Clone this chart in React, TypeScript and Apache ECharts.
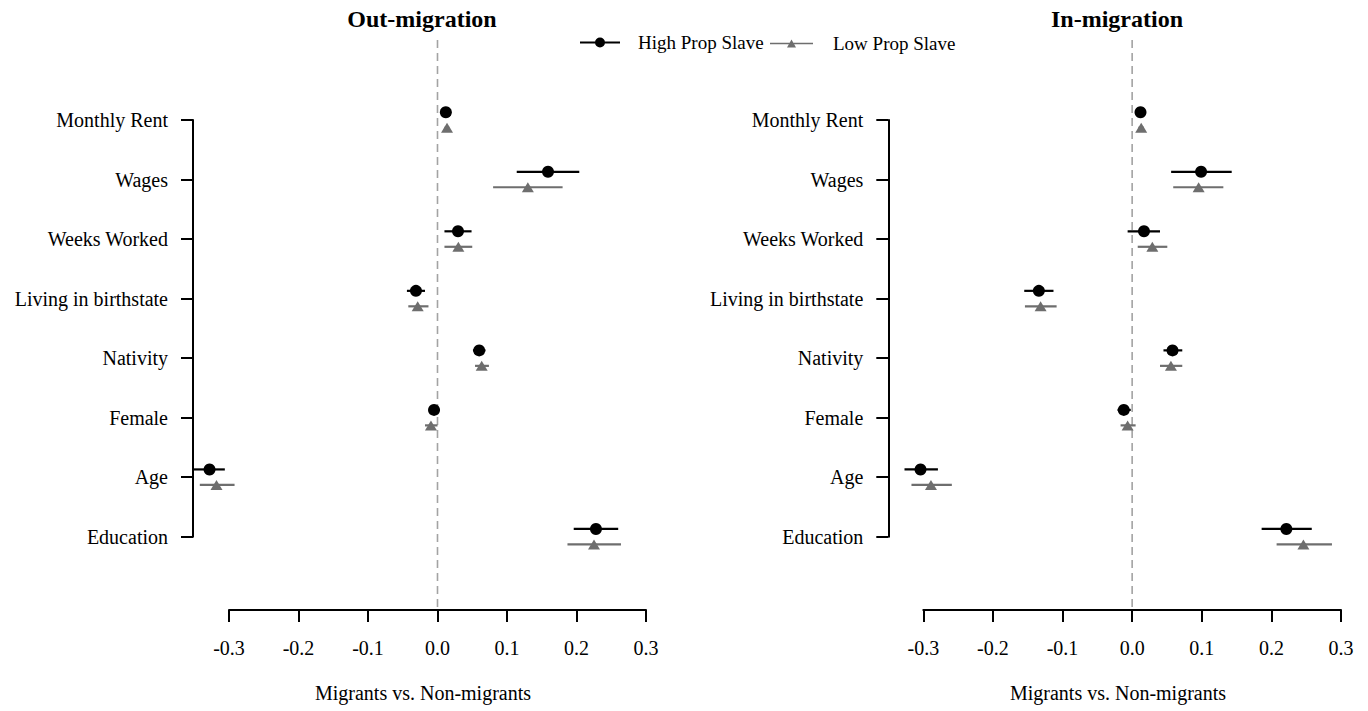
import React, { useEffect, useRef } from "react";
import * as echarts from "echarts";

const categories = [
  "Monthly Rent",
  "Wages",
  "Weeks Worked",
  "Living in birthstate",
  "Nativity",
  "Female",
  "Age",
  "Education",
];

const xTicks = [-0.3, 0.3, 0.1];

// Out-migration panel
const outHigh = [0.012, 0.159, 0.0295, -0.031, 0.06, -0.005, -0.328, 0.228];
const outHighLo = [0.008, 0.114, 0.01, -0.044, 0.051, -0.012, -0.351, 0.196];
const outHighHi = [0.016, 0.204, 0.049, -0.018, 0.069, 0.003, -0.306, 0.26];
const outLow = [0.0137, 0.13, 0.03, -0.0285, 0.0636, -0.0094, -0.318, 0.2252];
const outLowLo = [0.01, 0.08, 0.01, -0.042, 0.054, -0.018, -0.342, 0.187];
const outLowHi = [0.017, 0.18, 0.05, -0.013, 0.074, 0.0, -0.292, 0.264];

// In-migration panel
const inHigh = [0.012, 0.099, 0.017, -0.134, 0.058, -0.012, -0.304, 0.2215];
const inHighLo = [0.008, 0.056, -0.0065, -0.155, 0.045, -0.021, -0.327, 0.186];
const inHighHi = [0.016, 0.143, 0.04, -0.113, 0.072, -0.002, -0.279, 0.258];
const inLow = [0.013, 0.0955, 0.029, -0.1315, 0.0557, -0.0065, -0.289, 0.246];
const inLowLo = [0.009, 0.059, 0.008, -0.154, 0.04, -0.0166, -0.317, 0.2075];
const inLowHi = [0.017, 0.131, 0.0505, -0.1085, 0.072, 0.005, -0.259, 0.287];

const panelTitles = ["Out-migration", "In-migration"];
const seriesNames = ["High Prop Slave", "Low Prop Slave"];
const xAxisTitle = "Migrants vs. Non-migrants";

const FONT = '"Liberation Serif", "Times New Roman", serif';
const BLACK = "#000000";
const GRAY = "#6e6e6e";
const DASH = "#a3a3a3";
const DODGE = 0.13;
// dashed zero line extends above first / below last category (in category units)
const ZERO_TOP = 1 - 1.345;
const ZERO_BOTTOM = 8 + 1.232;

const LEGEND_HIGH_ICON =
  "path://M0,4H40V6H0Z M15,5A5,5 0 1,1 25,5A5,5 0 1,1 15,5Z M52.9,5H53V5.05Z";
const LEGEND_LOW_ICON =
  "path://M0,3.25H43V4.75H0Z M21.5,0L26,8L17,8Z M57.9,4H58V4.05Z";

function fmtX(v: number) {
  if (Math.abs(v) < 1e-9) return "0.0";
  return v.toFixed(1);
}

function errBarSeries(p: number, lo: number[], hi: number[], off: number, color: string) {
  return {
    type: "custom",
    xAxisIndex: p,
    yAxisIndex: p,
    clip: false,
    silent: true,
    encode: { x: [0, 2], y: 1 },
    data: categories.map((_, i) => [lo[i], i + 1 + off, hi[i]]),
    renderItem: (_params: any, api: any) => {
      const a = api.coord([api.value(0), api.value(1)]);
      const b = api.coord([api.value(2), api.value(1)]);
      return {
        type: "line",
        shape: { x1: a[0], y1: a[1], x2: b[0], y2: b[1] },
        style: { stroke: color, lineWidth: 2.2 },
      };
    },
  };
}

function zeroLineSeries(p: number) {
  return {
    type: "custom",
    xAxisIndex: p,
    yAxisIndex: p,
    clip: false,
    silent: true,
    encode: { x: 0, y: [1, 2] },
    data: [[0, ZERO_TOP, ZERO_BOTTOM]],
    renderItem: (_params: any, api: any) => {
      const a = api.coord([api.value(0), api.value(1)]);
      const b = api.coord([api.value(0), api.value(2)]);
      return {
        type: "line",
        shape: { x1: a[0], y1: a[1], x2: b[0], y2: b[1] },
        style: { stroke: DASH, lineWidth: 1.6, lineDash: [8, 5] },
      };
    },
  };
}

function pointSeries(p: number, name: string, vals: number[], off: number, symbol: string, size: any, color: string) {
  return {
    type: "scatter",
    name,
    xAxisIndex: p,
    yAxisIndex: p,
    clip: false,
    symbol,
    symbolSize: size,
    itemStyle: { color, opacity: 1 },
    data: vals.map((v, i) => [v, i + 1 + off]),
  };
}

function makeXAxis(p: number) {
  return {
    gridIndex: p,
    type: "value",
    min: xTicks[0],
    max: xTicks[1],
    interval: xTicks[2],
    offset: 73.3,
    axisLine: { show: true, onZero: false, lineStyle: { color: BLACK, width: 2 } },
    axisTick: { show: true, length: 12, lineStyle: { color: BLACK, width: 2 } },
    axisLabel: {
      formatter: fmtX,
      fontFamily: FONT,
      fontSize: 20,
      color: BLACK,
      margin: 28,
      showMinLabel: true,
      showMaxLabel: true,
    },
    splitLine: { show: false },
  };
}

function makeYAxis(p: number, offset: number) {
  return {
    gridIndex: p,
    type: "value",
    min: 1,
    max: 8,
    interval: 1,
    inverse: true,
    offset,
    axisLine: { show: true, onZero: false, lineStyle: { color: BLACK, width: 2 } },
    axisTick: { show: true, length: 12, lineStyle: { color: BLACK, width: 2 } },
    axisLabel: {
      formatter: (v: number) => categories[Math.round(v) - 1] || "",
      fontFamily: FONT,
      fontSize: 20,
      color: BLACK,
      margin: 25,
    },
    splitLine: { show: false },
  };
}

export default function App() {
  const ref = useRef<HTMLDivElement>(null);

  useEffect(() => {
    if (!ref.current) return;
    const chart = echarts.init(ref.current, undefined, { renderer: "svg" });

    const panels = [
      { hi: outHigh, hiLo: outHighLo, hiHi: outHighHi, lo: outLow, loLo: outLowLo, loHi: outLowHi },
      { hi: inHigh, hiLo: inHighLo, hiHi: inHighHi, lo: inLow, loLo: inLowLo, loHi: inLowHi },
    ];

    const series: any[] = [];
    panels.forEach((d, p) => {
      series.push(zeroLineSeries(p));
      series.push(errBarSeries(p, d.loLo, d.loHi, DODGE, GRAY));
      series.push(errBarSeries(p, d.hiLo, d.hiHi, -DODGE, BLACK));
      series.push(pointSeries(p, seriesNames[1], d.lo, DODGE, "triangle", [12, 10], GRAY));
      series.push(pointSeries(p, seriesNames[0], d.hi, -DODGE, "circle", 12, BLACK));
    });

    const titleStyle = { fontFamily: FONT, fontSize: 24, fontWeight: "bold", color: BLACK };
    const textStyle = { fontFamily: FONT, fontSize: 19, color: BLACK };

    const option: any = {
      animation: false,
      backgroundColor: "#ffffff",
      title: [
        { text: panelTitles[0], left: 422, top: 7, padding: 0, textAlign: "center", textStyle: titleStyle },
        { text: panelTitles[1], left: 1117, top: 7, padding: 0, textAlign: "center", textStyle: titleStyle },
      ],
      legend: [
        {
          data: [{ name: seriesNames[0], icon: LEGEND_HIGH_ICON }],
          left: 580,
          top: 33,
          padding: 0,
          itemWidth: 53,
          itemHeight: 10,
          selectedMode: false,
          textStyle,
        },
        {
          data: [{ name: seriesNames[1], icon: LEGEND_LOW_ICON }],
          left: 770,
          top: 34,
          padding: 0,
          itemWidth: 58,
          itemHeight: 8,
          selectedMode: false,
          textStyle,
        },
      ],
      grid: [
        { left: 229, top: 120, width: 417, height: 416.7 },
        { left: 923.3, top: 120, width: 417.7, height: 416.7 },
      ],
      xAxis: [makeXAxis(0), makeXAxis(1)],
      yAxis: [makeYAxis(0, 36), makeYAxis(1, 35)],
      graphic: [
        {
          type: "text",
          x: 423,
          y: 693,
          style: {
            text: xAxisTitle,
            align: "center",
            verticalAlign: "middle",
            fontFamily: FONT,
            fontSize: 20,
            fill: BLACK,
          },
        },
        {
          type: "text",
          x: 1118,
          y: 693,
          style: {
            text: xAxisTitle,
            align: "center",
            verticalAlign: "middle",
            fontFamily: FONT,
            fontSize: 20,
            fill: BLACK,
          },
        },
      ],
      series,
    };

    chart.setOption(option);
    return () => {
      chart.dispose();
    };
  }, []);

  return (
    <div
      ref={ref}
      style={{ position: "absolute", left: 0, top: 0, width: 1368, height: 711, background: "#fff" }}
    />
  );
}
